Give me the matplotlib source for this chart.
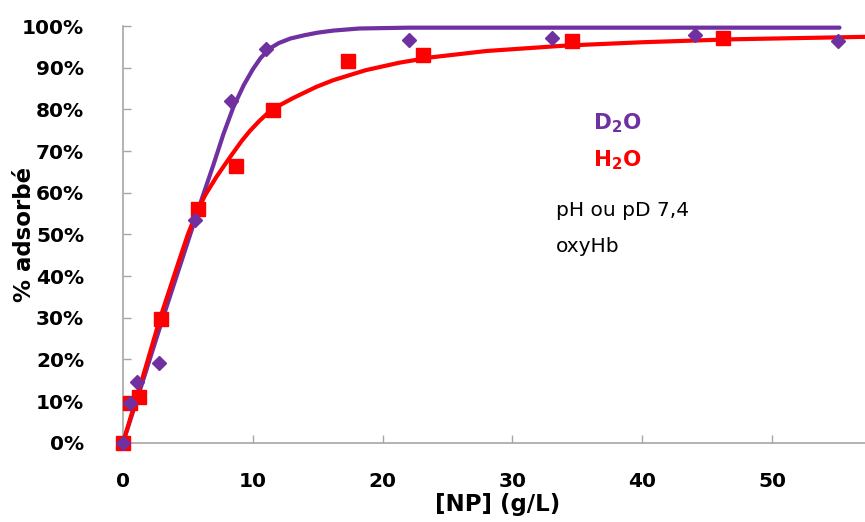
import matplotlib
matplotlib.use("Agg")
import matplotlib.pyplot as plt
from matplotlib.ticker import FuncFormatter

# ---- data ----
d2o_x = [0, 0.51, 1.07, 2.76, 5.55, 8.29, 11.0, 22.05, 33.05, 44.05, 55.05]
d2o_y = [0.0, 9.5, 14.5, 19.2, 53.4, 82.1, 94.6, 96.6, 97.2, 97.8, 96.5]

h2o_x = [0, 0.56, 1.2, 2.9, 5.8, 8.7, 11.56, 17.3, 23.1, 34.6, 46.2]
h2o_y = [0.0, 9.5, 10.9, 29.6, 56.1, 66.5, 79.8, 91.7, 93.0, 96.4, 97.2]

# fitted trend curves
d2o_fit_x = [0, 1.5, 3.07, 4.5, 6.07, 7.0, 7.73, 8.5, 9.3, 10.0, 10.6, 11.3,
             12.0, 12.9, 14.0, 15.0, 16.2, 18.2, 22, 30, 40, 55.2]
d2o_fit_y = [0, 14.5, 29.9, 43.5, 58.5, 67.0, 74.0, 80.5, 85.8, 89.6, 92.3, 94.6,
             95.9, 97.0, 97.8, 98.4, 98.9, 99.4, 99.6, 99.6, 99.6, 99.6]

h2o_fit_x = [0, 1.5, 2.86, 4.3, 5.0, 5.68, 6.33, 7.2, 8.24, 9.14, 9.77, 10.5, 11.19,
             12.2, 13.1, 14.9, 16.2, 18.7, 21.3, 23.8, 28, 34.1, 40, 46.8, 57.2]
h2o_fit_y = [0, 15.5, 29.9, 43.5, 50.0, 55.3, 59.4, 63.8, 68.5, 72.4, 74.8, 77.2, 79.2,
             81.2, 82.7, 85.4, 87.0, 89.4, 91.2, 92.5, 94.0, 95.3, 96.1, 96.8, 97.4]

x_ticks = [0, 10, 20, 30, 40, 50]
y_ticks = [0, 10, 20, 30, 40, 50, 60, 70, 80, 90, 100]

PURPLE = "#7030A0"
RED = "#FF0000"
GRAY = "#A6A6A6"

W, H = 865, 522
fig = plt.figure(figsize=(W / 100, H / 100), dpi=100)
x0, x1 = 123, 865
y0, y1 = 442.7, 26.0
ax = fig.add_axes([x0 / W, 1 - y0 / H, (x1 - x0) / W, (y0 - y1) / H])

ax.plot(d2o_fit_x, d2o_fit_y, color=PURPLE, lw=3.0, solid_joinstyle="round",
        solid_capstyle="round", zorder=2, clip_on=False)
ax.plot(h2o_fit_x, h2o_fit_y, color=RED, lw=3.0, solid_joinstyle="round",
        solid_capstyle="round", zorder=3, clip_on=False)
ax.plot(h2o_x, h2o_y, ls="none", marker="s", ms=10, color=RED, zorder=4, clip_on=False)
ax.plot(d2o_x, d2o_y, ls="none", marker="D", ms=7, color=PURPLE, zorder=5, clip_on=False)

ax.set_xlim(0, (x1 - x0) / 12.98)
ax.set_ylim(0, 100)
ax.set_xticks(x_ticks)
ax.set_yticks(y_ticks)
ax.yaxis.set_major_formatter(FuncFormatter(lambda v, p: f"{int(round(v))}%"))

for s in ["top", "right"]:
    ax.spines[s].set_visible(False)
for s in ["left", "bottom"]:
    ax.spines[s].set_color(GRAY)
    ax.spines[s].set_linewidth(1.2)

ax.tick_params(axis="both", direction="in", length=6, width=1.0, color=GRAY,
               labelsize=14.5, labelcolor="black")
ax.tick_params(axis="y", pad=28)
ax.tick_params(axis="x", pad=21)
for lab in ax.get_xticklabels() + ax.get_yticklabels():
    lab.set_fontweight("bold")
    lab.set_family("DejaVu Sans")

ax.set_xlabel("[NP] (g/L)", fontsize=16.5, fontweight="bold")
ax.xaxis.label.set_va("center")
ax.xaxis.set_label_coords((498 - x0) / (x1 - x0), (y0 - 505) / (y0 - y1))
ax.set_ylabel("% adsorbé", fontsize=16.5, fontweight="bold")
ax.yaxis.label.set_va("center")
ax.yaxis.set_label_coords((24 - x0) / (x1 - x0), (y0 - 234) / (y0 - y1))

def axpos(px, py):
    return ((px - x0) / (x1 - x0), (y0 - py) / (y0 - y1))

ax.text(*axpos(593, 123), r"$\mathbf{D_2O}$", transform=ax.transAxes, color=PURPLE,
        fontsize=15.5, ha="left", va="center")
ax.text(*axpos(593, 160), r"$\mathbf{H_2O}$", transform=ax.transAxes, color=RED,
        fontsize=15.5, ha="left", va="center")
ax.text(*axpos(556, 211), "pH ou pD 7,4", transform=ax.transAxes, color="black",
        fontsize=14.5, ha="left", va="center")
ax.text(*axpos(556, 247), "oxyHb", transform=ax.transAxes, color="black",
        fontsize=14.5, ha="left", va="center")

fig.savefig("out.png", dpi=100)
